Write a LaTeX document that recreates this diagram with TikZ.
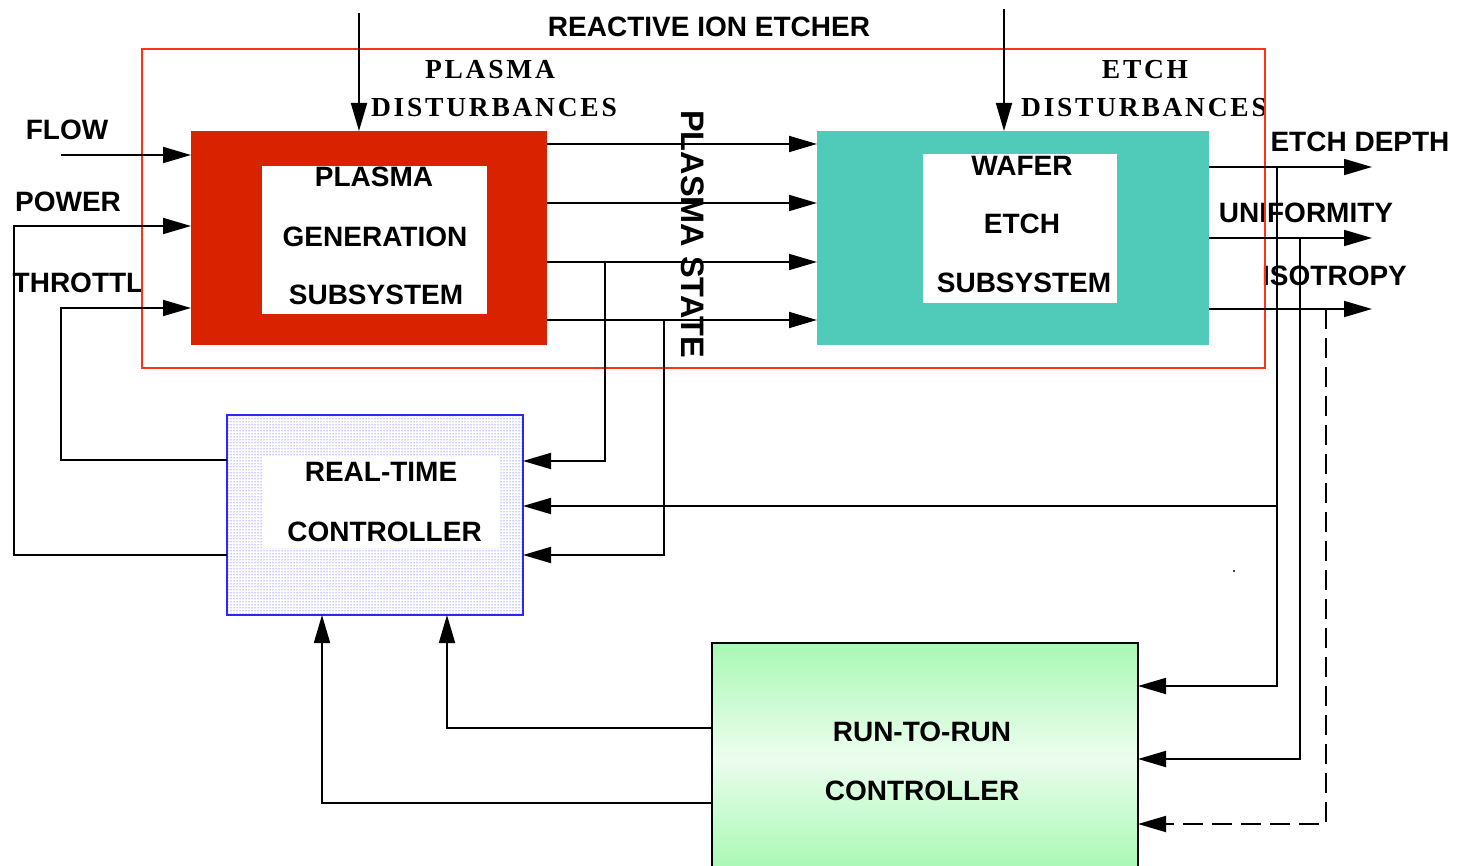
\documentclass[tikz,border=0pt]{standalone}
\usepackage{fontspec}
\setmainfont{Liberation Sans}
\newfontfamily\serifspaced[LetterSpace=10]{Liberation Serif}
\usetikzlibrary{arrows.meta,patterns}
\definecolor{pgred}{RGB}{217,34,0}
\definecolor{wteal}{RGB}{80,203,185}
\definecolor{outl}{RGB}{255,51,20}
\definecolor{rtblue}{RGB}{40,40,255}
\definecolor{rrgreen}{RGB}{168,248,180}
\definecolor{rrwhite}{RGB}{236,253,238}
\tikzset{
  blk/.style={rectangle, inner sep=0pt, outer sep=0pt},
  lbl/.style={font=\fontsize{28}{30}\selectfont\bfseries, inner sep=0pt},
  slbl/.style={font=\fontsize{27.5}{30}\selectfont\serifspaced\bfseries, inner sep=0pt},
  conn/.style={line width=1.8pt, black},
  arr/.style={conn, -{Triangle[length=28pt,width=16pt]}},
  dashconn/.style={arr, dash pattern=on 20pt off 9pt}
}
\begin{document}
\begin{tikzpicture}[x=1pt,y=-1pt]
\useasboundingbox (0,0) rectangle (1457,866);

% blocks
\node[blk, fill=pgred, minimum width=356pt, minimum height=214pt] (pg) at (369,238) {};
\node[blk, fill=white, minimum width=225pt, minimum height=148pt] (pgin) at (374.5,240) {};
\node[blk, fill=wteal, minimum width=392pt, minimum height=214pt] (we) at (1013,238) {};
\node[blk, fill=white, minimum width=194pt, minimum height=149pt] (wein) at (1020,228.5) {};
\node[blk, draw=rtblue, line width=1.8pt, pattern=dots, pattern color=rtblue, minimum width=296pt, minimum height=200pt] (rt) at (375,515) {};
\node[blk, fill=white, minimum width=238pt, minimum height=92pt] (rtin) at (381,502) {};
\node[blk, draw=black, line width=1.8pt, top color=rrgreen, bottom color=rrgreen, middle color=rrwhite, minimum width=426pt, minimum height=227pt] (rr) at (925,756.5) {};

% texts in blocks
\node[lbl] (t1) at (374,177) {PLASMA};
\node[lbl] (t2) at (375,237) {GENERATION};
\node[lbl] (t3) at (376,295) {SUBSYSTEM};
\node[lbl] (t4) at (1022,166) {WAFER};
\node[lbl] (t5) at (1022,224) {ETCH};
\node[lbl] (t6) at (1024,283) {SUBSYSTEM};
\node[lbl] (t7) at (381,472) {REAL-TIME};
\node[lbl] (t8) at (384.5,532) {CONTROLLER};
\node[lbl] (t9) at (922,732) {RUN-TO-RUN};
\node[lbl] (t10) at (922,791) {CONTROLLER};

% other labels
\node[lbl] (rie) at (709,27) {REACTIVE ION ETCHER};
\node[lbl] (lflow) at (67,130) {FLOW};
\node[lbl] (lpower) at (68,202) {POWER};
\node[lbl] (lthr) at (78,283) {THROTTL};
\node[slbl] (pd1) at (490,70) {PLASMA};
\node[slbl] (pd2) at (494,108) {DISTURBANCES};
\node[slbl] (ed1) at (1145,70) {ETCH};
\node[slbl] (ed2) at (1144,108) {DISTURBANCES};
\node[lbl, font=\fontsize{32.5}{34}\selectfont\bfseries, rotate=-90] (ps) at (692.5,234) {PLASMA STATE};
\node[lbl] (led) at (1360,142) {ETCH DEPTH};
\node[lbl] (lun) at (1306,213) {UNIFORMITY};
\node[lbl, anchor=west] (lis) at (1262,276) {ISOTROPY};

% reactive ion etcher outline
\node[blk, draw=outl, line width=1.8pt, minimum width=1123pt, minimum height=319pt] (etcher) at (703.5,208.5) {};

% free ends
\coordinate (pdtop) at (359,13);
\coordinate (edtop) at (1004,9);
\coordinate (flow) at (61,155);
\coordinate (pwc) at (14,226);
\coordinate (thc) at (61,308);
\coordinate (j1) at (605,262);
\coordinate (j2) at (664,320);
\coordinate (o1) at (1372,167);
\coordinate (o2) at (1372,238);
\coordinate (o3) at (1372,309);
\coordinate (v1) at (1277,167);
\coordinate (v1b) at (1277,506);
\coordinate (v2) at (1300,238);
\coordinate (v3) at (1326,309);

% disturbances and inputs
\draw[arr] (pdtop) -- (pdtop |- pg.north);
\draw[arr] (edtop) -- (edtop |- we.north);
\draw[arr] (flow) -- (flow -| pg.west);
\draw[arr] (rt.west |- 0,555) -| (pwc) -- (pwc -| pg.west);
\draw[arr] (rt.west |- 0,460) -| (thc) -- (thc -| pg.west);

% plasma state
\foreach \yy in {144,203,262,320}
  \draw[arr] (pg.east |- 0,\yy) -- (we.west |- 0,\yy);
\draw[arr] (j1) |- (rt.east |- 0,461);
\draw[arr] (j2) |- (rt.east |- 0,555);

% outputs
\draw[arr] (we.east |- o1) -- (o1);
\draw[arr] (we.east |- o2) -- (o2);
\draw[arr] (we.east |- o3) -- (o3);
\draw[arr] (v1) |- (rr.east |- 0,686);
\draw[arr] (v1b) -- (rt.east |- v1b);
\draw[arr] (v2) |- (rr.east |- 0,759);
\draw[dashconn] (v3) |- (rr.east |- 0,824);

% run-to-run to real-time
\draw[arr] (rr.west |- 0,728) -| ([xshift=72pt]rt.south);
\draw[arr] (rr.west |- 0,803) -| ([xshift=-53pt]rt.south);

% stray dot
\fill (1234,571) circle (1.2pt);
\end{tikzpicture}
\end{document}
